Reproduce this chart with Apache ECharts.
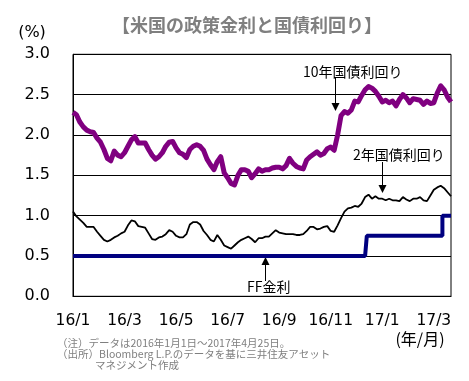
<!DOCTYPE html>
<html>
<head>
<meta charset="utf-8">
<script src="https://cdn.jsdelivr.net/npm/echarts@6/dist/echarts.min.js"></script>
<style>
html,body{margin:0;padding:0;background:#fff;}
#chart{width:469px;height:381px;}
</style>
</head>
<body>
<div id="chart"></div>
<script>
// Tick labels on the category axis (one label every 15 points)
const tickLabels = ['16/1', '16/3', '16/5', '16/7', '16/9', '16/11', '17/1', '17/3'];
const labelEvery = 15;

// 10-year Treasury yield (%)
const y10 = [
  2.28, 2.25, 2.16, 2.10, 2.06, 2.04, 2.03, 1.96, 1.91, 1.82,
  1.71, 1.68, 1.80, 1.75, 1.73, 1.78, 1.86, 1.94, 1.98, 1.90,
  1.90, 1.90, 1.82, 1.75, 1.70, 1.73, 1.78, 1.86, 1.91, 1.92,
  1.84, 1.78, 1.76, 1.72, 1.82, 1.86, 1.88, 1.86, 1.81, 1.70,
  1.63, 1.57, 1.67, 1.73, 1.53, 1.47, 1.40, 1.38, 1.50, 1.57,
  1.57, 1.55, 1.47, 1.52, 1.58, 1.55, 1.57, 1.57, 1.59, 1.60,
  1.60, 1.58, 1.62, 1.71, 1.65, 1.61, 1.59, 1.58, 1.69, 1.73,
  1.76, 1.79, 1.75, 1.77, 1.83, 1.85, 1.81, 2.00, 2.24, 2.29,
  2.27, 2.31, 2.42, 2.41, 2.49, 2.56, 2.60, 2.58, 2.54, 2.48,
  2.41, 2.43, 2.40, 2.42, 2.36, 2.44, 2.50, 2.46, 2.40, 2.45,
  2.44, 2.43, 2.38, 2.42, 2.39, 2.40, 2.52, 2.61, 2.56, 2.47,
  2.41
];

// 2-year Treasury yield (%)
const y2 = [
  1.05, 0.99, 0.95, 0.91, 0.86, 0.86, 0.86, 0.80, 0.75, 0.70,
  0.68, 0.70, 0.73, 0.75, 0.78, 0.80, 0.88, 0.94, 0.93, 0.87,
  0.86, 0.85, 0.78, 0.71, 0.70, 0.73, 0.74, 0.77, 0.82, 0.80,
  0.75, 0.73, 0.73, 0.77, 0.89, 0.92, 0.92, 0.89, 0.81, 0.76,
  0.70, 0.68, 0.76, 0.70, 0.63, 0.61, 0.59, 0.63, 0.67, 0.70,
  0.72, 0.74, 0.71, 0.67, 0.72, 0.72, 0.74, 0.74, 0.78, 0.82,
  0.79, 0.78, 0.77, 0.77, 0.77, 0.76, 0.76, 0.77, 0.81, 0.86,
  0.86, 0.83, 0.84, 0.86, 0.87, 0.81, 0.80, 0.88, 0.97, 1.05,
  1.09, 1.10, 1.12, 1.11, 1.15, 1.23, 1.26, 1.21, 1.24, 1.21,
  1.21, 1.19, 1.21, 1.19, 1.19, 1.18, 1.23, 1.20, 1.18, 1.21,
  1.21, 1.23, 1.19, 1.18, 1.25, 1.32, 1.35, 1.37, 1.34, 1.29,
  1.24
];

// Fed funds rate (upper bound, %)
const ff = [
  0.50, 0.50, 0.50, 0.50, 0.50, 0.50, 0.50, 0.50, 0.50, 0.50,
  0.50, 0.50, 0.50, 0.50, 0.50, 0.50, 0.50, 0.50, 0.50, 0.50,
  0.50, 0.50, 0.50, 0.50, 0.50, 0.50, 0.50, 0.50, 0.50, 0.50,
  0.50, 0.50, 0.50, 0.50, 0.50, 0.50, 0.50, 0.50, 0.50, 0.50,
  0.50, 0.50, 0.50, 0.50, 0.50, 0.50, 0.50, 0.50, 0.50, 0.50,
  0.50, 0.50, 0.50, 0.50, 0.50, 0.50, 0.50, 0.50, 0.50, 0.50,
  0.50, 0.50, 0.50, 0.50, 0.50, 0.50, 0.50, 0.50, 0.50, 0.50,
  0.50, 0.50, 0.50, 0.50, 0.50, 0.50, 0.50, 0.50, 0.50, 0.50,
  0.50, 0.50, 0.50, 0.50, 0.50, 0.50, 0.75, 0.75, 0.75, 0.75,
  0.75, 0.75, 0.75, 0.75, 0.75, 0.75, 0.75, 0.75, 0.75, 0.75,
  0.75, 0.75, 0.75, 0.75, 0.75, 0.75, 0.75, 0.75, 1.00, 1.00,
  1.00
];

const categories = y10.map((_, i) => 'p' + i);

const NUM = 'DejaVu Sans, Noto Sans CJK JP, sans-serif';
const JP = 'Noto Sans CJK JP, DejaVu Sans, sans-serif';

const chart = echarts.init(document.getElementById('chart'), null, {renderer: 'canvas'});
chart.setOption({
  animation: false,
  backgroundColor: '#fff',
  grid: {left: 73, right: 18, top: 54.3, bottom: 84.7, show: true, borderColor: '#000', borderWidth: 1, backgroundColor: 'transparent'},
  xAxis: {
    type: 'category',
    data: categories,
    boundaryGap: false,
    axisLine: {show: true, lineStyle: {color: '#000', width: 1}},
    axisTick: {show: false},
    splitLine: {show: false},
    axisLabel: {
      interval: labelEvery - 1,
      margin: 17,
      color: '#000',
      fontFamily: NUM,
      fontSize: 15.5,
      formatter: (v, i) => tickLabels[Math.round(i / labelEvery)] || ''
    }
  },
  yAxis: {
    type: 'value',
    min: 0, max: 3, interval: 0.5,
    axisLine: {show: true, lineStyle: {color: '#000', width: 1}},
    axisTick: {show: false},
    splitLine: {show: true, lineStyle: {color: '#000', width: 1}},
    axisLabel: {
      margin: 23,
      color: '#000',
      fontFamily: NUM,
      fontSize: 16,
      formatter: v => v.toFixed(1)
    }
  },
  series: [
    {name: 'FF金利', type: 'line', data: ff, step: 'middle', symbol: 'none', lineStyle: {color: '#000080', width: 4}, z: 3},
    {name: '2年国債利回り', type: 'line', data: y2, symbol: 'none', lineStyle: {color: '#000', width: 1.8}, z: 4},
    {name: '10年国債利回り', type: 'line', data: y10, symbol: 'none', lineStyle: {color: '#800080', width: 5, join: 'round'}, z: 5}
  ],
  graphic: [
    {type: 'text', x: 247, y: 25, style: {text: '【米国の政策金利と国債利回り】', font: 'bold 18px ' + JP, fill: '#7f7f7f', align: 'center', verticalAlign: 'middle'}},
    {type: 'text', x: 32, y: 33, style: {text: '(%)', font: '16px ' + NUM, fill: '#000', align: 'center', verticalAlign: 'middle'}},
    {type: 'text', x: 420, y: 339, style: {text: '(年/月)', font: '16px ' + JP, fill: '#000', align: 'center', verticalAlign: 'middle'}},
    {type: 'text', x: 57, y: 343, style: {text: '（注）データは2016年1月1日～2017年4月25日。', font: '10.5px ' + JP, fill: '#7f7f7f', align: 'left', verticalAlign: 'middle'}},
    {type: 'text', x: 57, y: 354, style: {text: '（出所）Bloomberg L.P.のデータを基に三井住友アセット', font: '10.5px ' + JP, fill: '#7f7f7f', align: 'left', verticalAlign: 'middle'}},
    {type: 'text', x: 95, y: 365, style: {text: 'マネジメント作成', font: '10.5px ' + JP, fill: '#7f7f7f', align: 'left', verticalAlign: 'middle'}},
    // 10年 annotation
    {type: 'text', x: 303, y: 72, style: {text: '10年国債利回り', font: '14px ' + JP, fill: '#000', align: 'left', verticalAlign: 'middle'}},
    {type: 'line', shape: {x1: 335.5, y1: 78, x2: 335.5, y2: 104}, style: {stroke: '#000', lineWidth: 1}},
    {type: 'polygon', shape: {points: [[331.5, 103], [339.5, 103], [335.5, 111]]}, style: {fill: '#000'}},
    // 2年 annotation
    {type: 'text', x: 353, y: 155, style: {text: '2年国債利回り', font: '14px ' + JP, fill: '#000', align: 'left', verticalAlign: 'middle'}},
    {type: 'line', shape: {x1: 382.5, y1: 162, x2: 382.5, y2: 186}, style: {stroke: '#000', lineWidth: 1}},
    {type: 'polygon', shape: {points: [[378.5, 185], [386.5, 185], [382.5, 193]]}, style: {fill: '#000'}},
    // FF annotation
    {type: 'text', x: 247, y: 287, style: {text: 'FF金利', font: '14px ' + JP, fill: '#000', align: 'left', verticalAlign: 'middle'}},
    {type: 'line', shape: {x1: 265.5, y1: 264, x2: 265.5, y2: 281}, style: {stroke: '#000', lineWidth: 1}},
    {type: 'polygon', shape: {points: [[261.5, 265], [269.5, 265], [265.5, 257]]}, style: {fill: '#000'}}
  ]
});
</script>
</body>
</html>
